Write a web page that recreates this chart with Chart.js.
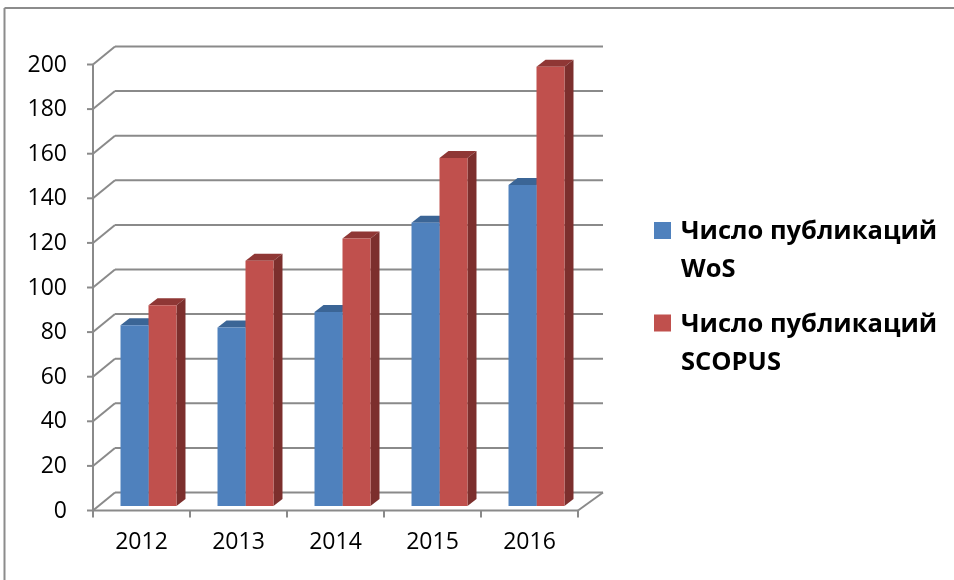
<!DOCTYPE html>
<html>
<head>
<meta charset="utf-8">
<script src="https://cdn.jsdelivr.net/npm/chart.js@4.4.1/dist/chart.umd.min.js"></script>
<style>
  html, body { margin: 0; padding: 0; background: #fff; }
  #wrap { position: relative; width: 954px; height: 580px; }
</style>
</head>
<body>
<div id="wrap"><canvas id="chart" width="954" height="580"></canvas></div>
<script>
// data
var years = ["2012", "2013", "2014", "2015", "2016"];
var wos = [81, 80, 87, 127, 144];
var scopus = [90, 110, 120, 156, 197];
var seriesNames = [
  ["Число публикаций", "WoS"],
  ["Число публикаций", "SCOPUS"]
];
var yTicks = [0, 20, 40, 60, 80, 100, 120, 140, 160, 180, 200];

var blue = { front: "#4F81BD", top: "#3B6596", side: "#385D8A" };
var red = { front: "#C0504D", top: "#8F3735", side: "#7C2F2D" };
var gridColor = "#8a8a8a";

// offsets of the fake 3d box, relative to the plane the bars stand in
var front = { dx: -7, dy: 4.5 };
var backL = { dx: 15, dy: -13.5 };
var backR = { dx: 18, dy: -13.5 };
var barDepth = { dx: 9, dy: -7 };

function line(ctx, x1, y1, x2, y2) {
  ctx.beginPath();
  ctx.moveTo(x1, y1);
  ctx.lineTo(x2, y2);
  ctx.stroke();
}

function poly(ctx, pts, color) {
  ctx.beginPath();
  ctx.moveTo(pts[0][0], pts[0][1]);
  for (var i = 1; i < pts.length; i++) ctx.lineTo(pts[i][0], pts[i][1]);
  ctx.closePath();
  ctx.fillStyle = color;
  ctx.fill();
}

var box3d = {
  id: "box3d",
  beforeDraw: function (chart) {
    var ctx = chart.ctx;
    ctx.save();
    ctx.fillStyle = "#fff";
    ctx.fillRect(0, 0, chart.width, chart.height);
    // outer frame (only top and left are in view)
    ctx.strokeStyle = "#8c8c8c";
    ctx.lineWidth = 2;
    line(ctx, 4.5, 8, chart.width, 8);
    line(ctx, 4.5, 8, 4.5, chart.height);
    ctx.restore();
  },
  beforeDatasetsDraw: function (chart) {
    var ctx = chart.ctx;
    var area = chart.chartArea;
    var ys = chart.scales.y;
    var xs = chart.scales.x;
    var fl = area.left + front.dx;
    var fr = area.right + front.dx;
    ctx.save();
    ctx.strokeStyle = gridColor;
    ctx.lineWidth = 2;
    ctx.lineCap = "butt";

    yTicks.forEach(function (v) {
      var y = ys.getPixelForValue(v) + front.dy;
      var bl = area.left + backL.dx;
      var by = ys.getPixelForValue(v) + backL.dy;
      // left wall diagonal + back wall line
      line(ctx, fl, y, bl, by);
      line(ctx, bl, by, area.right + backR.dx, by);
      // tick mark on the front axis
      line(ctx, fl - 6, y, fl, y);
    });

    // floor
    var y0 = ys.getPixelForValue(0) + front.dy;
    line(ctx, fl, y0, fr, y0);
    line(ctx, fr, y0, area.right + backR.dx, ys.getPixelForValue(0) + backR.dy);
    // vertical axis
    line(ctx, fl, ys.getPixelForValue(200) + front.dy, fl, y0);
    // category ticks
    var step = (xs.right - xs.left) / years.length;
    for (var i = 0; i <= years.length; i++) {
      var x = xs.left + i * step + front.dx;
      line(ctx, x, y0, x, y0 + 7);
    }

    // top and side faces of the bars, fronts are drawn by chart.js
    var cols = [blue, red];
    for (var c = 0; c < years.length; c++) {
      for (var d = 0; d < 2; d++) {
        var bar = chart.getDatasetMeta(d).data[c];
        var L = bar.x - bar.width / 2;
        var R = bar.x + bar.width / 2;
        var t = bar.y, b = bar.base;
        poly(ctx, [[L, t], [L + barDepth.dx, t + barDepth.dy], [R + barDepth.dx, t + barDepth.dy], [R, t]], cols[d].top);
        poly(ctx, [[R, t], [R + barDepth.dx, t + barDepth.dy], [R + barDepth.dx, b + barDepth.dy], [R, b]], cols[d].side);
      }
    }
    ctx.restore();
  },
  afterDraw: function (chart) {
    // legend at the right, wrapped on two lines like the original
    var ctx = chart.ctx;
    var cols = [blue, red];
    var tops = [239, 331.5];
    ctx.save();
    ctx.font = "bold 25.5px 'Open Sans'";
    ctx.textBaseline = "alphabetic";
    ctx.textAlign = "left";
    seriesNames.forEach(function (lines, i) {
      ctx.fillStyle = cols[i].front;
      ctx.fillRect(654, tops[i] - 17, 17, 17);
      ctx.fillStyle = "#000";
      lines.forEach(function (txt, j) {
        ctx.fillText(txt, 681, tops[i] + j * 38);
      });
    });
    ctx.restore();
  }
};

var tickFont = { family: "'Open Sans'", size: 23 };

new Chart(document.getElementById("chart"), {
  type: "bar",
  data: {
    labels: years,
    datasets: [
      { label: seriesNames[0].join(" "), data: wos, backgroundColor: blue.front },
      { label: seriesNames[1].join(" "), data: scopus, backgroundColor: red.front }
    ]
  },
  options: {
    responsive: false,
    animation: false,
    devicePixelRatio: 1,
    datasets: { bar: { categoryPercentage: 0.577, barPercentage: 1, borderWidth: 0 } },
    layout: { padding: { left: 0, top: 60, right: 369, bottom: 0 } },
    plugins: { legend: { display: false }, tooltip: { enabled: false } },
    scales: {
      x: {
        grid: { display: false, drawTicks: false },
        border: { display: false },
        ticks: { font: tickFont, color: "#000", padding: 23, labelOffset: -7, maxRotation: 0 },
        afterFit: function (s) { s.height = 74; }
      },
      y: {
        min: 0,
        max: 200,
        grid: { display: false, drawTicks: false },
        border: { display: false },
        ticks: { stepSize: 20, font: tickFont, color: "#000", padding: 33, labelOffset: 5 },
        afterFit: function (s) { s.width = 100; }
      }
    }
  },
  plugins: [box3d]
});
</script>
</body>
</html>
